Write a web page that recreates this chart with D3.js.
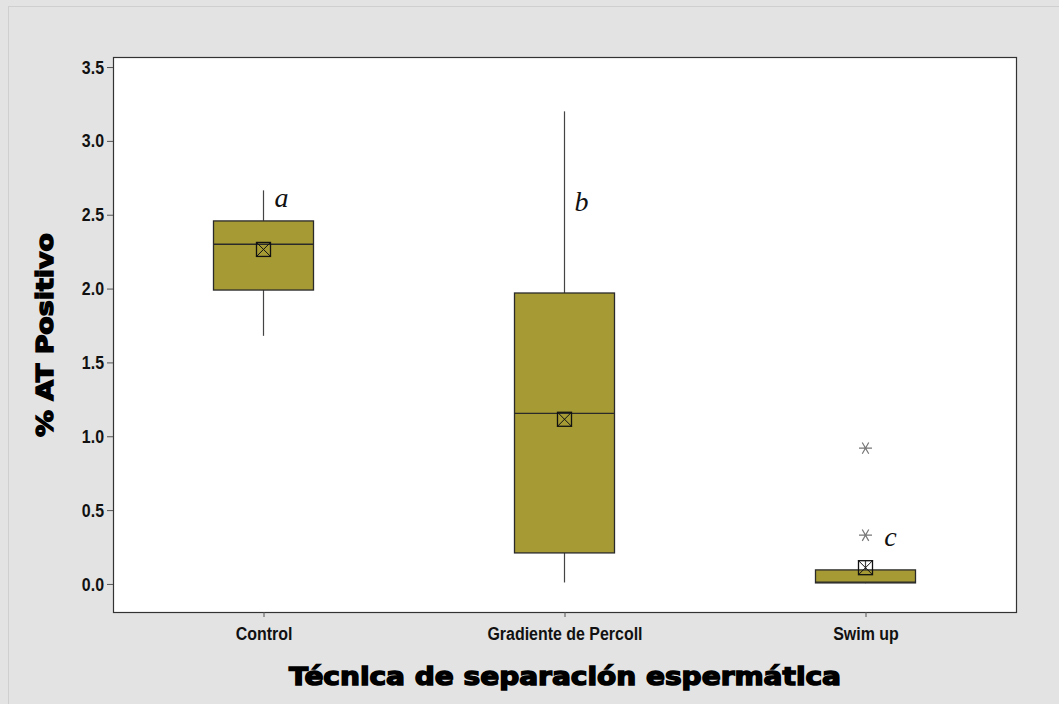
<!DOCTYPE html>
<html>
<head>
<meta charset="utf-8">
<script src="https://cdn.jsdelivr.net/npm/d3@7"></script>
<style>
  html, body { margin: 0; padding: 0; background: #e3e3e3; }
  svg { display: block; }
</style>
</head>
<body>
<svg id="chart" width="1059" height="704"></svg>
<script>
// Grupos y estadísticos de cada caja (% AT positivo)
const categories = ["Control", "Gradiente de Percoll", "Swim up"];
const whiskerLow  = [1.68, 0.01, 0.005];
const q1          = [1.99, 0.21, 0.007];
const median      = [2.30, 1.155, 0.012];
const q3          = [2.458, 1.97, 0.095];
const whiskerHigh = [2.665, 3.20, 0.155];
const means       = [2.265, 1.115, 0.11];
const outliers    = [[], [], [0.92, 0.33]];
const groupLetters = ["a", "b", "c"];
const yTicks = [0.0, 0.5, 1.0, 1.5, 2.0, 2.5, 3.0, 3.5];

const svg = d3.select("#chart");
const W = 1059, H = 704;
const plot = { left: 113, top: 57, right: 1016, bottom: 612 };

// Marco exterior claro
svg.append("rect").attr("x", 8.5).attr("y", 6.5)
  .attr("width", W - 8).attr("height", H - 6)
  .attr("fill", "#e3e3e3").attr("stroke", "#cfcfcf");

// Área de datos
svg.append("rect")
  .attr("x", plot.left + 0.5).attr("y", plot.top + 0.5)
  .attr("width", plot.right - plot.left).attr("height", plot.bottom - plot.top)
  .attr("fill", "#ffffff").attr("stroke", "#333").attr("stroke-width", 1.2);

const x = d3.scalePoint().domain(categories)
  .range([plot.left, plot.right]).padding(0.5);
const y = d3.scaleLinear().domain([-0.19, 3.568])
  .range([plot.bottom, plot.top]);

// Ejes (rótulos estrechos: fuente escalada en horizontal)
const narrow = 0.84;
const yAxis = svg.append("g").attr("transform", `translate(${plot.left},0)`)
  .call(d3.axisLeft(y).tickValues(yTicks).tickFormat(d3.format(".1f")).tickSize(6).tickPadding(3));
const xAxis = svg.append("g").attr("transform", `translate(0,${plot.bottom})`)
  .call(d3.axisBottom(x).tickSize(5).tickPadding(10));
[yAxis, xAxis].forEach(g => {
  g.select(".domain").remove();
  g.selectAll(".tick line").attr("stroke", "#555");
  g.selectAll(".tick text")
    .attr("fill", "#111")
    .style("font-family", "'Liberation Sans', Arial, sans-serif")
    .style("font-weight", "bold")
    .style("font-size", "19px");
});
yAxis.selectAll(".tick text")
  .attr("x", -9 / narrow)
  .attr("transform", `scale(${narrow},1)`);
xAxis.selectAll(".tick text")
  .attr("transform", `scale(${narrow},1)`);

const boxW = 100;
const fill = "#a69a35";
const g = svg.append("g");

categories.forEach((c, i) => {
  const cx = x(c);
  // Bigotes
  g.append("line").attr("x1", cx).attr("x2", cx)
    .attr("y1", y(q3[i])).attr("y2", y(whiskerHigh[i]))
    .attr("stroke", "#444").attr("stroke-width", 1.2);
  g.append("line").attr("x1", cx).attr("x2", cx)
    .attr("y1", y(q1[i])).attr("y2", y(whiskerLow[i]))
    .attr("stroke", "#444").attr("stroke-width", 1.2);
  // Caja
  g.append("rect").attr("x", cx - boxW / 2).attr("y", y(q3[i]))
    .attr("width", boxW).attr("height", y(q1[i]) - y(q3[i]))
    .attr("fill", fill).attr("stroke", "#2a2a2a").attr("stroke-width", 1.3);
  // Mediana
  g.append("line").attr("x1", cx - boxW / 2).attr("x2", cx + boxW / 2)
    .attr("y1", y(median[i])).attr("y2", y(median[i]))
    .attr("stroke", "#2a2a2a").attr("stroke-width", 1.3);
  // Media: cuadrado con aspa
  const my = y(means[i]), s = 7;
  g.append("rect").attr("x", cx - s).attr("y", my - s)
    .attr("width", 2 * s).attr("height", 2 * s)
    .attr("fill", "none").attr("stroke", "#111").attr("stroke-width", 1.3);
  g.append("path")
    .attr("d", `M${cx - s},${my - s}L${cx + s},${my + s}M${cx + s},${my - s}L${cx - s},${my + s}`)
    .attr("stroke", "#111").attr("stroke-width", 1);
  // Valores atípicos: asterisco
  outliers[i].forEach(v => {
    const oy = y(v), r = 6.5;
    let d = "";
    [0, 60, 120].forEach(a => {
      const rad = a * Math.PI / 180;
      d += `M${cx - r * Math.cos(rad)},${oy - r * Math.sin(rad)}L${cx + r * Math.cos(rad)},${oy + r * Math.sin(rad)}`;
    });
    d += `M${cx - r},${oy}L${cx + r},${oy}`;
    g.append("path").attr("d", d).attr("stroke", "#777").attr("stroke-width", 1.2);
  });
});

// Letras de significación
const letterPos = [
  { c: 0, v: 2.55, dx: 18 },
  { c: 1, v: 2.525, dx: 17 },
  { c: 2, v: 0.26, dx: 25 }
];
letterPos.forEach((p, k) => {
  svg.append("text")
    .attr("x", x(categories[p.c]) + p.dx).attr("y", y(p.v))
    .attr("text-anchor", "middle")
    .style("font-family", "'Liberation Serif', 'Times New Roman', serif")
    .style("font-style", "italic")
    .style("font-size", "28px")
    .attr("fill", "#111")
    .text(groupLetters[k]);
});

// Títulos de ejes
svg.append("text")
  .attr("x", (plot.left + plot.right) / 2 + 0.5).attr("y", 685)
  .attr("text-anchor", "middle")
  .attr("textLength", 552).attr("lengthAdjust", "spacingAndGlyphs")
  .style("font-family", "'DejaVu Sans', sans-serif")
  .style("font-weight", "bold").style("font-size", "24px")
  .attr("fill", "#000").attr("stroke", "#000").attr("stroke-width", 1.4)
  .text("Técnica de separación espermática");

svg.append("text")
  .attr("transform", `translate(53,${335}) rotate(-90)`)
  .attr("text-anchor", "middle")
  .attr("textLength", 204).attr("lengthAdjust", "spacingAndGlyphs")
  .style("font-family", "'DejaVu Sans', sans-serif")
  .style("font-weight", "bold").style("font-size", "23px")
  .attr("fill", "#000").attr("stroke", "#000").attr("stroke-width", 1.4)
  .text("% AT Positivo");
</script>
</body>
</html>
